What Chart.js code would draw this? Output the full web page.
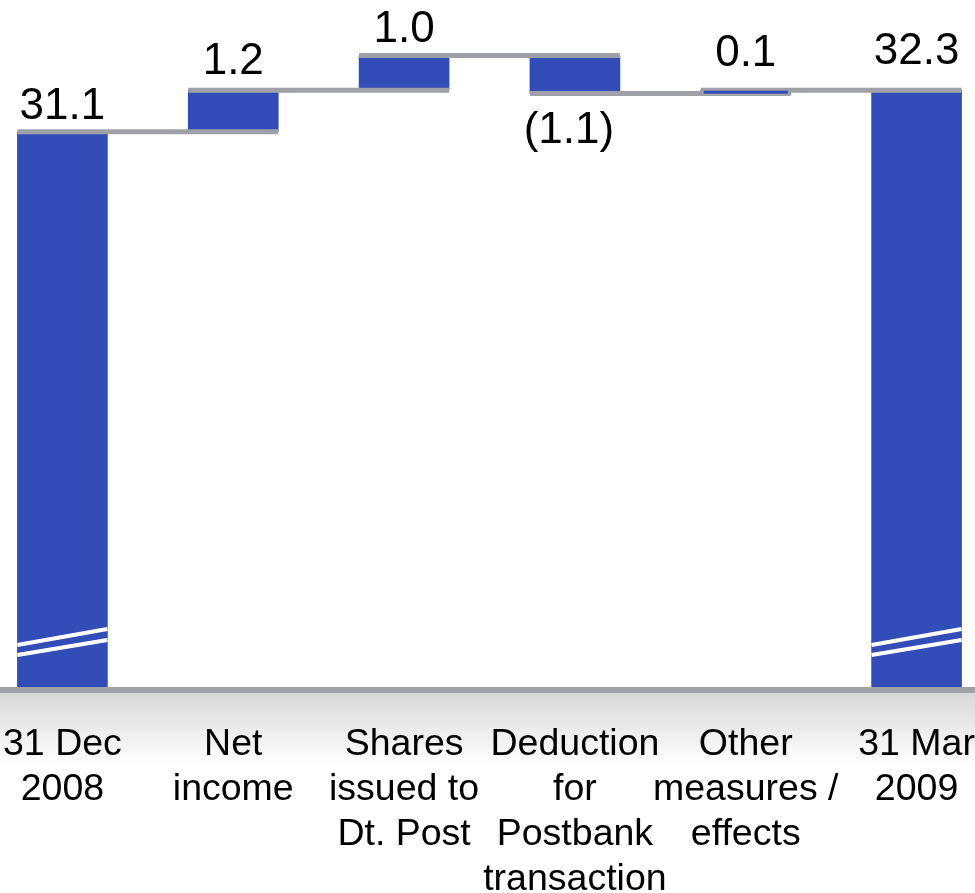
<!DOCTYPE html>
<html>
<head>
<meta charset="utf-8">
<script src="https://cdn.jsdelivr.net/npm/chart.js@4/dist/chart.umd.min.js"></script>
<style>
  html, body { margin: 0; padding: 0; background: #fff; overflow: hidden; }
  #wrap { position: absolute; left: -23px; top: 0; width: 1025px; height: 893px; }
</style>
</head>
<body>
<div id="wrap"><canvas id="chart"></canvas></div>
<script>
// Data
const categories = [
  ['31 Dec', '2008'],
  ['Net', 'income'],
  ['Shares', 'issued to', 'Dt. Post'],
  ['Deduction', 'for', 'Postbank', 'transaction'],
  ['Other', 'measures /', 'effects'],
  ['31 Mar', '2009']
];
const changes = [31.1, 1.2, 1.0, -1.1, 0.1, 32.3];
const isTotal = [true, false, false, false, false, true];
const valueLabels = ['31.1', '1.2', '1.0', '(1.1)', '0.1', '32.3'];

// Floating bars [start, end] built from the changes
let running = 0;
const ranges = changes.map((v, i) => {
  if (isTotal[i]) { running = v; return [0, v]; }
  const start = running;
  running = +(running + v).toFixed(2);
  return [start, running];
});

const BLUE = '#334db8';
const GREY = '#a0a0a9';
const FONT = '"Liberation Sans", Arial, sans-serif';
// extra lift of some labels, like in the slide
const labelLift = [0, 3, 0, 0, 11, 13];

// Grey band under the axis
const axisBand = {
  id: 'axisBand',
  beforeDraw(chart) {
    const { ctx, chartArea } = chart;
    const y0 = chartArea.bottom;
    const g = ctx.createLinearGradient(0, y0, 0, y0 + 75);
    g.addColorStop(0, '#d6d6d6');
    g.addColorStop(1, '#ffffff');
    ctx.save();
    ctx.fillStyle = g;
    ctx.fillRect(0, y0, chart.width, 75);
    ctx.restore();
  },
  afterDraw(chart) {
    const { ctx, chartArea } = chart;
    ctx.save();
    ctx.fillStyle = GREY;
    ctx.fillRect(0, chartArea.bottom - 3, chart.width, 6);
    ctx.restore();
  }
};

// Connectors, break marks and value labels
const waterfall = {
  id: 'waterfall',
  afterDatasetsDraw(chart) {
    const { ctx, chartArea } = chart;
    const y = chart.scales.y;
    const bars = chart.getDatasetMeta(0).data;
    ctx.save();

    // connector lines between bars
    ctx.strokeStyle = GREY;
    ctx.lineWidth = 5;
    for (let i = 0; i < bars.length - 1; i++) {
      const a = bars[i], b = bars[i + 1];
      const py = y.getPixelForValue(ranges[i][1]);
      ctx.beginPath();
      ctx.moveTo(a.x - a.width / 2, py);
      ctx.lineTo(b.x + b.width / 2, py);
      ctx.stroke();
    }

    // thin bars still show a bit of blue
    bars.forEach((b, i) => {
      const h = Math.abs(b.base - b.y);
      if (!isTotal[i] && h < 10) {
        ctx.fillStyle = BLUE;
        ctx.fillRect(b.x - b.width / 2 + 3, Math.min(b.y, b.base) + 0.5, b.width - 6, 3);
      }
    });

    // axis break on total bars
    ctx.strokeStyle = '#fff';
    ctx.lineWidth = 4;
    bars.forEach((b, i) => {
      if (!isTotal[i]) return;
      const l = b.x - b.width / 2, r = b.x + b.width / 2;
      const bot = chartArea.bottom;
      [[45, 61], [35, 50]].forEach(([dl, dr]) => {
        ctx.beginPath();
        ctx.moveTo(l, bot - dl);
        ctx.lineTo(r, bot - dr);
        ctx.stroke();
      });
    });

    // value labels
    ctx.fillStyle = '#000';
    ctx.font = '44px ' + FONT;
    ctx.textAlign = 'center';
    bars.forEach((b, i) => {
      if (changes[i] >= 0) {
        ctx.textBaseline = 'alphabetic';
        ctx.fillText(valueLabels[i], b.x, Math.min(b.y, b.base) - 13 - labelLift[i]);
      } else {
        ctx.textBaseline = 'top';
        ctx.fillText(valueLabels[i], b.x - 6, Math.max(b.y, b.base) + 15);
      }
    });
    ctx.restore();
  }
};

new Chart(document.getElementById('chart'), {
  type: 'bar',
  data: {
    labels: categories,
    datasets: [{
      data: ranges,
      backgroundColor: BLUE,
      borderWidth: 0,
      barThickness: 90
    }]
  },
  options: {
    responsive: true,
    maintainAspectRatio: false,
    animation: false,
    layout: { padding: 0 },
    plugins: { legend: { display: false }, tooltip: { enabled: false } },
    scales: {
      x: {
        grid: { display: false },
        border: { display: false },
        ticks: {
          color: '#000',
          font: { family: FONT, size: 37.5, lineHeight: 1.2 },
          padding: 24,
          maxRotation: 0,
          autoSkip: false
        },
        afterFit(scale) { scale.height = 203; }
      },
      y: {
        display: false,
        min: 15,
        max: 34.9
      }
    }
  },
  plugins: [axisBand, waterfall]
});
</script>
</body>
</html>
